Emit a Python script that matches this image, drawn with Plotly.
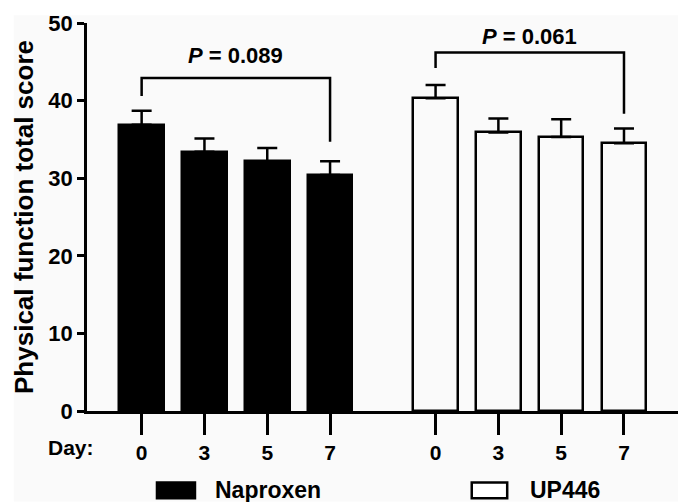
import plotly.graph_objects as go

days = ["0", "3", "5", "7"]
naproxen_mean = [36.9, 33.4, 32.2, 30.4]
naproxen_se = [1.8, 1.7, 1.7, 1.8]
up446_mean = [40.3, 35.9, 35.3, 34.5]
up446_se = [1.7, 1.8, 2.3, 1.9]
p_labels = ["0.089", "0.061"]
bracket_top = [42.9, 46.2]
bracket_left_end = [40.6, 44.2]
bracket_right_end = [34.7, 38.3]
p_text_y = [45.8, 48.3]

GAP = 1.68
BW = 0.71
FONT = "Liberation Sans"
nap_x = [i for i in range(len(days))]
up_x = [i + len(days) - 1 + GAP for i in range(len(days))]

fig = go.Figure()
fig.add_trace(go.Bar(
    x=nap_x, y=naproxen_mean, width=BW, name="Naproxen",
    marker=dict(color="black", line=dict(color="black", width=2.5)),
    error_y=dict(type="data", array=naproxen_se, arrayminus=[0]*4, symmetric=False,
                 color="black", thickness=2.5, width=10),
))
fig.add_trace(go.Bar(
    x=up_x, y=up446_mean, width=BW, name="UP446",
    marker=dict(color="rgba(0,0,0,0)", line=dict(color="black", width=2.5)),
    error_y=dict(type="data", array=up446_se, arrayminus=[0]*4, symmetric=False,
                 color="black", thickness=2.5, width=10),
))

groups = [nap_x, up_x]
for g in range(2):
    xs = groups[g]
    fig.add_trace(go.Scatter(
        x=[xs[0], xs[0], xs[-1], xs[-1]],
        y=[bracket_left_end[g], bracket_top[g], bracket_top[g], bracket_right_end[g]],
        mode="lines", line=dict(color="black", width=2.5), hoverinfo="skip",
    ))
    fig.add_annotation(x=(xs[0] + xs[-1]) / 2, y=p_text_y[g], xref="x", yref="y",
                       text="<i>P</i> = " + p_labels[g], showarrow=False,
                       font=dict(family=FONT, size=22, color="black", weight="bold"))

fig.add_annotation(x=-0.027, y=-0.095, xref="paper", yref="paper", text="Day:",
                   showarrow=False, xanchor="center", yanchor="middle",
                   font=dict(family=FONT, size=21, color="black", weight="bold"))

# custom legend
legend_items = [("Naproxen", "black", 0.1184, 0.1827, 0.213),
                ("UP446", "white", 0.651, 0.711, 0.746)]
for name, fill, x0, x1, tx in legend_items:
    fig.add_shape(type="rect", xref="paper", yref="paper", x0=x0, x1=x1, y0=-0.225, y1=-0.184,
                  fillcolor=fill, line=dict(color="black", width=2.5))
    fig.add_annotation(x=tx, y=-0.2046, xref="paper", yref="paper", text=name,
                       showarrow=False, xanchor="left", yanchor="middle",
                       font=dict(family=FONT, size=23, color="black", weight="bold"))

fig.add_shape(type="rect", xref="paper", yref="paper", x0=-0.124, x1=1.0, y0=-0.233, y1=1.02,
              fillcolor="#fafafa", line=dict(width=0), layer="below")

fig.update_layout(
    width=689, height=502, margin=dict(l=87, r=11, t=20, b=91),
    paper_bgcolor="white", plot_bgcolor="rgba(0,0,0,0)",
    showlegend=False, bargap=0,
    font=dict(family=FONT, color="black"),
)
fig.update_xaxes(range=[-0.87, 8.54], tickvals=nap_x + up_x, ticktext=days + days,
                 showline=True, linewidth=2.7, linecolor="black", ticks="outside",
                 ticklen=21, tickwidth=2.7, tickcolor="black", showgrid=False, zeroline=False,
                 tickfont=dict(family=FONT, size=21, color="black", weight="bold"))
fig.update_yaxes(range=[0, 50], dtick=10, showline=True, linewidth=2.7, linecolor="black",
                 ticks="outside", ticklen=7, tickwidth=2.7, tickcolor="black",
                 showgrid=False, zeroline=False,
                 tickfont=dict(family=FONT, size=22, color="black", weight="bold"),
                 title=dict(text="Physical function total score", standoff=8,
                            font=dict(family=FONT, size=26, color="black", weight="bold")))

fig.write_html("out.html")
